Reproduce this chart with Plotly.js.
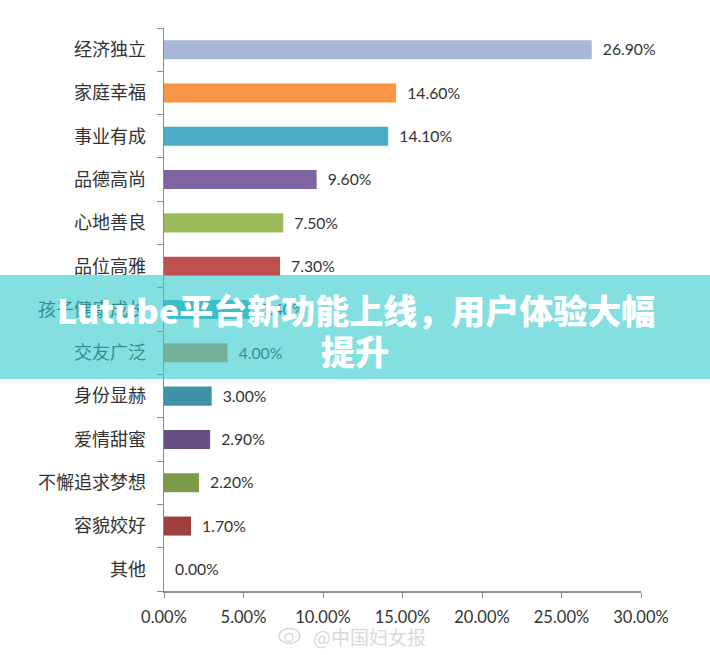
<!DOCTYPE html>
<html><head><meta charset="utf-8">
<script src="https://cdn.plot.ly/plotly-3.0.1.min.js"></script>
<style>html,body{margin:0;padding:0;background:#fff}</style></head>
<body><div id="chart" style="width:710px;height:655px"></div>
<script>
const categories = ["经济独立","家庭幸福","事业有成","品德高尚","心地善良","品位高雅","孩子健康成长","交友广泛","身份显赫","爱情甜蜜","不懈追求梦想","容貌姣好","其他"];
const values = [26.9,14.6,14.1,9.6,7.5,7.3,5.4,4.0,3.0,2.9,2.2,1.7,0];
const colors = ["#A7B7D7","#F79646","#4BACC6","#8064A2","#9BBB59","#C0504D","#4BACC6","#D98B4F","#3F92A8","#664E82","#7D9A48","#9E413E","#A7B7D7"];
const xTicks = [0,5,10,15,20,25,30];
const bannerLines = ["Lutube平台新功能上线，用户体验大幅","提升"];
const watermark = "@中国妇女报";
const font = '"Noto Sans CJK SC","Noto Sans",sans-serif';
const numFont = 'Lato,"Open Sans",sans-serif';
const trace = {type:"bar",orientation:"h",x:values,y:categories,width:0.44,
  marker:{color:colors,line:{width:0}},
  text:values.map(v=>"\u00A0\u00A0"+v.toFixed(2)+"%"),textposition:"outside",cliponaxis:false,
  textfont:{family:numFont,size:16.5,color:"#333"},hoverinfo:"skip"};
const px = x => (x-164)/477, py = y => (591.5-y)/564;
const ann = (x,y,text,size,color,weight) => ({xref:"paper",yref:"paper",x:px(x),y:py(y),xanchor:"center",yanchor:"middle",text,showarrow:false,
  font:{family:font,size,color,weight}});
const layout = {width:710,height:655,showlegend:false,paper_bgcolor:"#fff",plot_bgcolor:"#fff",
  margin:{l:164,r:69,t:27.5,b:63.5,pad:0},
  xaxis:{range:[0,30],tickvals:xTicks,ticktext:xTicks.map(v=>v.toFixed(2)+"%"),ticks:"outside",ticklen:5,tickcolor:"#8c8c8c",
    showline:true,linecolor:"#8c8c8c",linewidth:1.5,showgrid:false,zeroline:false,ticklabelstandoff:6,
    tickfont:{family:numFont,size:16.5,color:"#333"}},
  yaxis:{type:"category",autorange:"reversed",categoryorder:"array",categoryarray:categories,tickmode:"array",tickvals:categories,
    ticks:"outside",tickson:"boundaries",ticklen:6,tickcolor:"#8c8c8c",
    showline:true,linecolor:"#8c8c8c",linewidth:1.5,showgrid:false,zeroline:false,ticklabelstandoff:13,
    tickfont:{family:font,size:18,color:"#333"}},
  shapes:[
    {type:"rect",xref:"paper",yref:"paper",x0:px(0),x1:px(710),y0:py(379),y1:py(275),fillcolor:"rgb(50,202,205)",opacity:0.6,line:{width:0},layer:"above"},
    {type:"circle",xref:"paper",yref:"paper",x0:px(279),x1:px(300),y0:py(644),y1:py(629),line:{color:"#d9d9d9",width:1.5},layer:"above"},
    {type:"circle",xref:"paper",yref:"paper",x0:px(285),x1:px(293),y0:py(642),y1:py(634),line:{color:"#d9d9d9",width:1.5},layer:"above"}
  ],
  annotations:[
    ann(356,310,bannerLines[0],34,"#fff",900),
    ann(355,351,bannerLines[1],34,"#fff",900),
    ann(369,637,watermark,19,"#d9d9d9",400)
  ]};
Plotly.newPlot("chart",[trace],layout,{displayModeBar:false,staticPlot:true});
</script></body></html>
